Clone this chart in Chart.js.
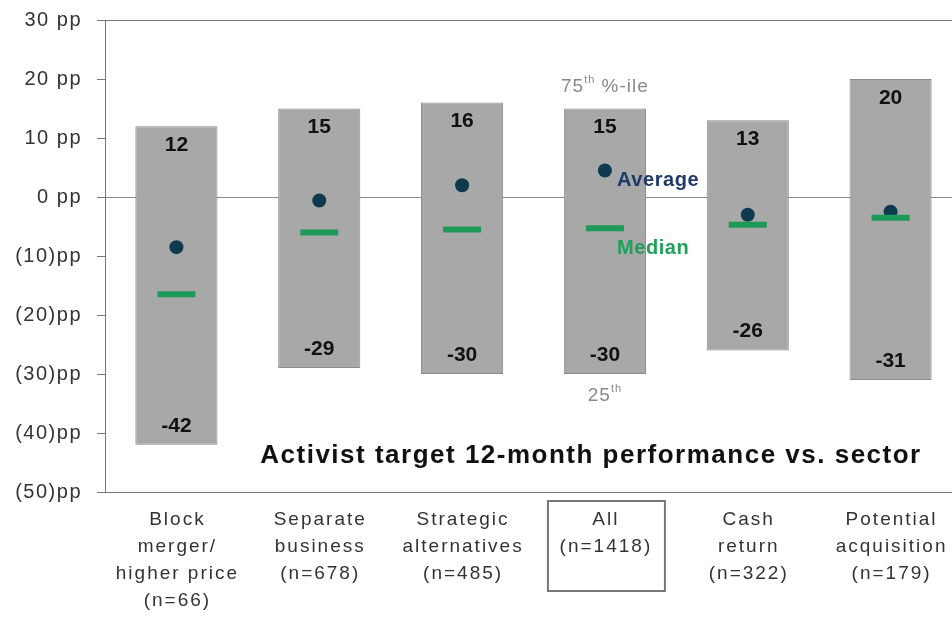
<!DOCTYPE html>
<html>
<head>
<meta charset="utf-8">
<title>Activist target 12-month performance vs. sector</title>
<script src="https://cdn.jsdelivr.net/npm/chart.js@4.4.1/dist/chart.umd.min.js"></script>
<style>
  html, body { margin: 0; padding: 0; background: #fff; overflow: hidden; }
  #grafico { display: block; }
</style>
</head>
<body>
<canvas id="grafico" width="962" height="618" style="width:962px;height:618px"></canvas>
<script>
// dati
var categorie = [
    ['Block', 'merger/', 'higher price', '(n=66)'],
    ['Separate', 'business', '(n=678)'],
    ['Strategic', 'alternatives', '(n=485)'],
    ['All', '(n=1418)'],
    ['Cash', 'return', '(n=322)'],
    ['Potential', 'acquisition', '(n=179)']
];
var percentile_25 = [-42, -29, -30, -30, -26, -31];
var percentile_75 = [12, 15, 16, 15, 13, 20];
var medie = [-8.5, -0.6, 2, 4.5, -3, -2.5];
var mediane = [-16.5, -6, -5.5, -5.3, -4.7, -3.5];
var tick_y = [30, 20, 10, 0, -10, -20, -30, -40, -50];
var etichette_y = ['30 pp', '20 pp', '10 pp', '0 pp', '(10)pp', '(20)pp', '(30)pp', '(40)pp', '(50)pp'];
var titolo = 'Activist target 12-month performance vs. sector';
var indice_tutti = 3; // la colonna "All" con le note

var font_base = '"Liberation Sans", Arial, sans-serif';

// scrive testo con apice tipo "75th"
function testo_apice(ctx, base, apice, resto, x, y, dim) {
    ctx.font = dim + 'px ' + font_base;
    var l1 = ctx.measureText(base).width;
    ctx.font = Math.round(dim * 0.6) + 'px ' + font_base;
    var l2 = ctx.measureText(apice).width;
    ctx.font = dim + 'px ' + font_base;
    var l3 = resto ? ctx.measureText(resto).width : 0;
    var inizio = x - (l1 + l2 + l3) / 2;
    ctx.textAlign = 'left';
    ctx.fillText(base, inizio, y);
    ctx.font = Math.round(dim * 0.6) + 'px ' + font_base;
    ctx.fillText(apice, inizio + l1, y - dim * 0.35);
    if (resto) {
        ctx.font = dim + 'px ' + font_base;
        ctx.fillText(resto, inizio + l1 + l2, y);
    }
}

var plugin_testi = {
    id: 'testi',
    beforeDraw: function(chart) {
        // spaziatura larga anche per le etichette dell'asse y
        chart.ctx.letterSpacing = '1.5px';
    },
    afterDraw: function(chart) {
        var ctx = chart.ctx;
        var sx = chart.scales.x;
        var sy = chart.scales.y;
        ctx.letterSpacing = '0px';
        ctx.save();
        ctx.textBaseline = 'middle';

        // valori 75th / 25th dentro le barre
        ctx.font = 'bold 21px ' + font_base;
        ctx.fillStyle = '#111';
        ctx.textAlign = 'center';
        for (var i = 0; i < categorie.length; i++) {
            var x = sx.getPixelForValue(i);
            ctx.fillText(String(percentile_75[i]), x, sy.getPixelForValue(percentile_75[i]) + 19);
            ctx.fillText(String(percentile_25[i]), x, sy.getPixelForValue(percentile_25[i]) - 19);
        }

        // etichette asse x, a mano per la spaziatura larga
        ctx.font = '19px ' + font_base;
        ctx.fillStyle = '#333';
        ctx.letterSpacing = '2px';
        for (var j = 0; j < categorie.length; j++) {
            var xc = sx.getPixelForValue(j) + 1;
            for (var r = 0; r < categorie[j].length; r++) {
                ctx.fillText(categorie[j][r], xc, chart.chartArea.bottom + 28 + r * 27);
            }
        }

        // riquadro attorno a "All"
        var xa = sx.getPixelForValue(indice_tutti);
        ctx.strokeStyle = '#777';
        ctx.lineWidth = 2;
        ctx.strokeRect(xa - 57, chart.chartArea.bottom + 9, 117, 90);

        // note della colonna "All"
        ctx.fillStyle = '#8a8a8a';
        ctx.letterSpacing = '1px';
        testo_apice(ctx, '75', 'th', ' %-ile', xa, sy.getPixelForValue(percentile_75[indice_tutti]) - 22, 19);
        testo_apice(ctx, '25', 'th', '', xa, sy.getPixelForValue(percentile_25[indice_tutti]) + 22, 19);

        ctx.textAlign = 'left';
        ctx.letterSpacing = '0.6px';
        ctx.font = 'bold 20px ' + font_base;
        ctx.fillStyle = '#1f3a68';
        ctx.fillText('Average', xa + 12, sy.getPixelForValue(medie[indice_tutti]) + 10);
        ctx.fillStyle = '#1fa05c';
        ctx.fillText('Median', xa + 12, sy.getPixelForValue(mediane[indice_tutti]) + 20);

        // titolo dentro l'area del grafico
        ctx.font = 'bold 26px ' + font_base;
        ctx.letterSpacing = '1.5px';
        ctx.fillStyle = '#111';
        ctx.textAlign = 'center';
        ctx.fillText(titolo, 591, 456);
        ctx.restore();
        ctx.letterSpacing = '0px';
    }
};

var ctx = document.getElementById('grafico');
var grafico = new Chart(ctx, {
    type: 'bar',
    data: {
        labels: categorie.map(function(c) { return c.join(' '); }),
        datasets: [{
            // mediana: trattino verde
            type: 'line',
            data: mediane,
            showLine: false,
            pointStyle: 'line',
            pointRadius: 19,
            pointBorderWidth: 6,
            pointBorderColor: '#1e9a58',
            order: 1
        }, {
            // media: pallino scuro
            type: 'line',
            data: medie,
            showLine: false,
            pointStyle: 'circle',
            pointRadius: 7,
            pointBorderWidth: 0,
            pointBackgroundColor: '#0d3a4e',
            order: 2
        }, {
            // barra fra 25th e 75th percentile
            data: percentile_25.map(function(v, i) { return [v, percentile_75[i]]; }),
            backgroundColor: '#a8a8a8',
            borderColor: '#8c8c8c',
            borderWidth: 1,
            borderSkipped: false,
            barPercentage: 0.575,
            categoryPercentage: 1,
            order: 3
        }]
    },
    options: {
        responsive: false,
        animation: false,
        events: [],
        layout: { autoPadding: false, padding: { top: 20, left: 0, right: 0, bottom: 0 } },
        plugins: {
            legend: { display: false },
            tooltip: { enabled: false }
        },
        scales: {
            x: {
                ticks: { display: false },
                grid: { display: false },
                border: { display: false },
                afterFit: function(scale) { scale.height = 126; }
            },
            y: {
                min: -50,
                max: 30,
                z: 1,
                ticks: {
                    stepSize: 10,
                    padding: 15,
                    color: '#333',
                    font: { size: 20, family: font_base },
                    callback: function(v) { return etichette_y[tick_y.indexOf(v)]; }
                },
                grid: {
                    tickLength: 8,
                    tickColor: '#777',
                    lineWidth: 1,
                    color: function(c) {
                        var v = c.tick ? c.tick.value : null;
                        if (v === 0) return '#8a8a8a';
                        if (v === 30 || v === -50) return '#777';
                        return 'rgba(0,0,0,0)';
                    }
                },
                border: { display: true, color: '#777', width: 1 },
                afterFit: function(scale) {
                    scale.width = 105;
                    // niente spazio extra sopra/sotto per le etichette
                    scale.paddingTop = 0;
                    scale.paddingBottom = 0;
                }
            }
        }
    },
    plugins: [plugin_testi]
});
</script>
</body>
</html>
